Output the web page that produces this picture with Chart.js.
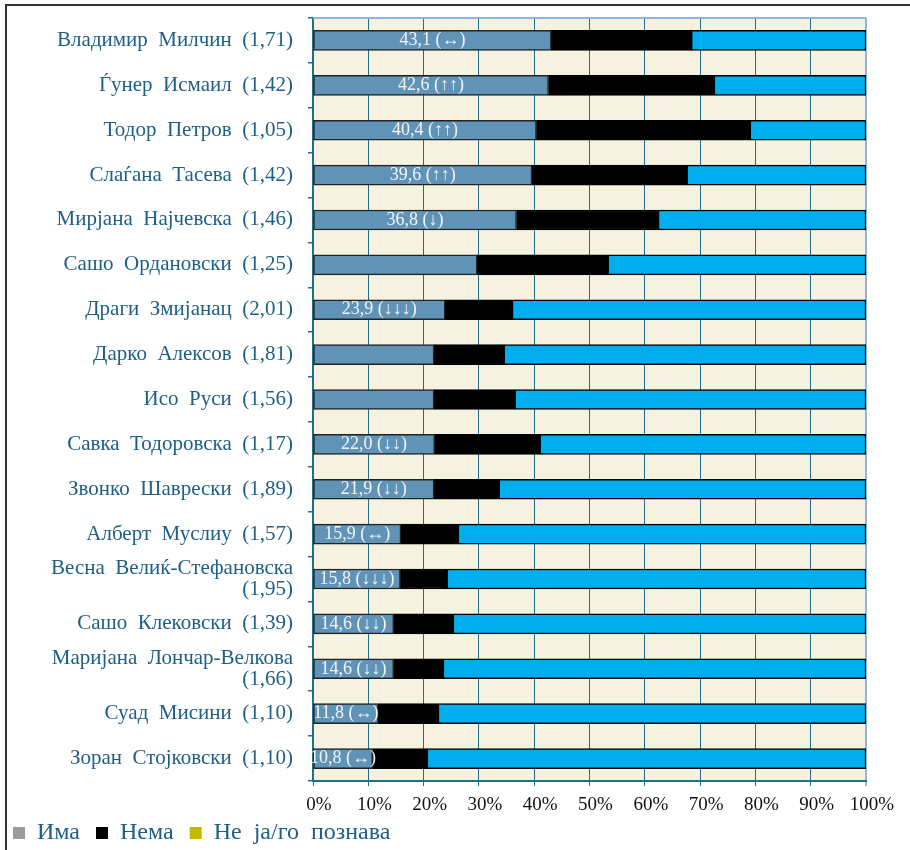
<!DOCTYPE html>
<html>
<head>
<meta charset="utf-8">
<script src="https://cdn.jsdelivr.net/npm/chart.js@4.4.0/dist/chart.umd.min.js"></script>
<style>
  body { margin: 0; background: #fff; }
  #frame { position: absolute; left: 5px; top: 4px; width: 1000px; height: 900px;
           border-top: 2px solid #333; border-left: 2px solid #333; }
  #wrap { position: absolute; left: 0; top: 0; width: 910px; height: 850px; }
</style>
</head>
<body>
<div id="frame"></div>
<div id="wrap"><canvas id="ratingChart"></canvas></div>
<script>
// ========== DATA ========== //
const names = [
  "Владимир  Милчин  (1,71)",
  "Ѓунер  Исмаил  (1,42)",
  "Тодор  Петров  (1,05)",
  "Слаѓана  Тасева  (1,42)",
  "Мирјана  Најчевска  (1,46)",
  "Сашо  Ордановски  (1,25)",
  "Драги  Змијанац  (2,01)",
  "Дарко  Алексов  (1,81)",
  "Исо  Руси  (1,56)",
  "Савка  Тодоровска  (1,17)",
  "Звонко  Шаврески  (1,89)",
  "Алберт  Муслиу  (1,57)",
  ["Весна  Велиќ-Стефановска", "(1,95)"],
  "Сашо  Клековски  (1,39)",
  ["Маријана  Лончар-Велкова", "(1,66)"],
  "Суад  Мисини  (1,10)",
  "Зоран  Стојковски  (1,10)"
];

const ima     = [43.1, 42.6, 40.4, 39.6, 36.8, 29.7, 23.9, 21.9, 21.9, 22.0, 21.9, 15.9, 15.8, 14.6, 14.6, 11.8, 10.8];
const nema    = [25.3, 29.9, 38.6, 28.0, 25.6, 23.6, 12.1, 12.6, 14.6, 19.0, 11.7, 10.3,  8.4, 10.7,  8.9, 10.8,  9.8];
const nePozn  = [31.6, 27.5, 21.0, 32.4, 37.6, 46.7, 64.0, 65.5, 63.5, 59.0, 66.4, 73.8, 75.8, 74.7, 76.5, 77.4, 79.4];

// labels inside the first segment ("" = no label)
const imaLabels = [
  "43,1 (↔)", "42,6 (↑↑)", "40,4 (↑↑)", "39,6 (↑↑)", "36,8 (↓)", "",
  "23,9 (↓↓↓)", "", "", "22,0 (↓↓)", "21,9 (↓↓)", "15,9 (↔)",
  "15,8 (↓↓↓)", "14,6 (↓↓)", "14,6 (↓↓)", "11,8 (↔)", "10,8 (↔)"
];

const seriesNames = ["Има", "Нема", "Не  ја/го  познава"];
const legendColors = ["#9b9b9d", "#000000", "#c4b800"];
const xTicks = [0, 10, 20, 30, 40, 50, 60, 70, 80, 90, 100];

const serif = "'Liberation Serif', 'DejaVu Serif', serif";
const labelBlue = "#1d5e86";
const gridTeal = "#1f6e8e";
const edgeBlue = "#8fb8d8";

// ========== PLUGINS ========== //
const plotBackground = {
  id: "plotBackground",
  beforeDraw(chart) {
    const { ctx, chartArea: a } = chart;
    ctx.save();
    ctx.fillStyle = "#f5f3df";
    ctx.fillRect(a.left, a.top, a.right - a.left, a.bottom - a.top);
    ctx.restore();
  },
  afterDraw(chart) {
    const { ctx, chartArea: a } = chart;
    ctx.save();
    ctx.strokeStyle = edgeBlue;
    ctx.lineWidth = 2;
    ctx.beginPath();
    ctx.moveTo(a.left, a.top);
    ctx.lineTo(a.right, a.top);
    ctx.stroke();
    ctx.restore();
  }
};

const barLabels = {
  id: "barLabels",
  afterDatasetsDraw(chart) {
    const { ctx } = chart;
    const meta = chart.getDatasetMeta(0);
    ctx.save();
    ctx.font = "18px " + serif;
    ctx.fillStyle = "#f4f4f4";
    ctx.textAlign = "center";
    ctx.textBaseline = "middle";
    meta.data.forEach((bar, i) => {
      if (!imaLabels[i]) return;
      ctx.fillText(imaLabels[i], (bar.x + bar.base) / 2, bar.y);
    });
    ctx.restore();
  }
};

// ========== CHART ========== //
const ctx = document.getElementById("ratingChart").getContext("2d");

new Chart(ctx, {
  type: "bar",
  data: {
    labels: names,
    datasets: [
      { label: seriesNames[0], data: ima,    backgroundColor: "#6093b8", borderColor: "#222" },
      { label: seriesNames[1], data: nema,   backgroundColor: "#000000", borderColor: "#000" },
      { label: seriesNames[2], data: nePozn, backgroundColor: "#00aeef", borderColor: "#000" }
    ]
  },
  plugins: [plotBackground, barLabels],
  options: {
    indexAxis: "y",
    responsive: true,
    maintainAspectRatio: false,
    animation: false,
    layout: { padding: { top: 18, right: 44, left: 9, bottom: -5 } },
    datasets: {
      bar: { barThickness: 20, borderWidth: 1.5, borderSkipped: false }
    },
    plugins: {
      legend: {
        position: "bottom",
        align: "start",
        labels: {
          color: labelBlue,
          font: { family: serif, size: 24 },
          boxWidth: 12,
          boxHeight: 12,
          padding: 4,
          generateLabels: chart => chart.data.datasets.map((ds, i) => ({
            text: ds.label + "  ",
            fillStyle: legendColors[i],
            strokeStyle: legendColors[i],
            lineWidth: 0,
            fontColor: labelBlue,
            datasetIndex: i
          }))
        }
      },
      tooltip: { enabled: false }
    },
    scales: {
      x: {
        stacked: true,
        min: 0,
        max: 100,
        afterBuildTicks: scale => { scale.ticks = xTicks.map(v => ({ value: v })); },
        afterFit: scale => { scale.height = 36; },
        ticks: {
          color: "#111",
          font: { family: serif, size: 19 },
          padding: 8,
          labelOffset: 6,
          callback: v => v + "%"
        },
        grid: {
          color: c => (c.tick && c.tick.value === 100) ? edgeBlue : gridTeal,
          lineWidth: c => (c.tick && c.tick.value === 100) ? 2 : 1,
          tickLength: 5
        },
        border: { color: gridTeal, width: 2 }
      },
      y: {
        stacked: true,
        afterFit: scale => { scale.width = 304; scale.paddingTop = 0; scale.paddingBottom = 0; },
        ticks: {
          color: labelBlue,
          font: { family: serif, size: 21, lineHeight: 1.0 },
          padding: 15,
          autoSkip: false
        },
        grid: {
          offset: true,
          drawOnChartArea: false,
          drawTicks: true,
          tickLength: 5,
          color: gridTeal,
          lineWidth: 1.5
        },
        border: { color: gridTeal, width: 2 }
      }
    }
  }
});
</script>
</body>
</html>
